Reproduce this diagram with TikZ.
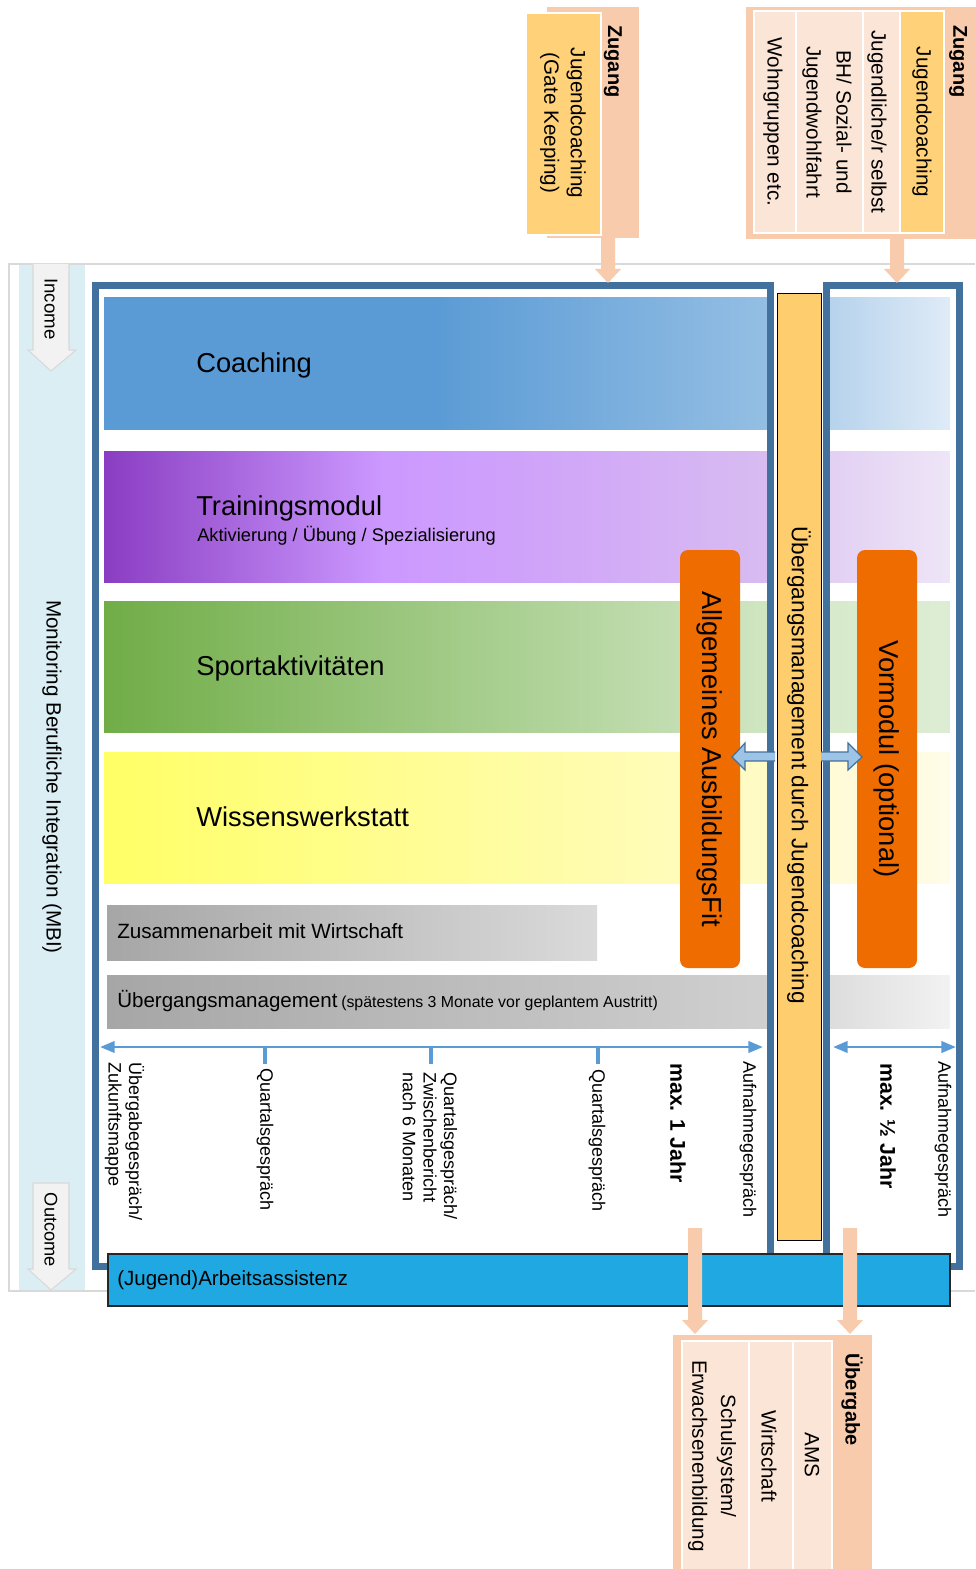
\documentclass[tikz,border=0pt]{standalone}
\usepackage{fontspec}
\setmainfont{Liberation Sans}
\usetikzlibrary{arrows.meta,calc}
\newcommand{\fsz}[2]{\fontsize{#1pt}{#2pt}\selectfont}
\definecolor{cFrame}{HTML}{41719C}
\definecolor{cMBI}{HTML}{DAEEF3}
\definecolor{cGrayLine}{HTML}{D9D9D9}
\definecolor{cArrowG}{HTML}{F2F2F2}
\definecolor{cCoachA}{HTML}{5B9BD5}
\definecolor{cCoachB}{HTML}{95BFE4}
\definecolor{cCoachC}{HTML}{B5D2EC}
\definecolor{cCoachD}{HTML}{DFEBF7}
\definecolor{cTrA}{HTML}{8A3DC2}
\definecolor{cTrB}{HTML}{CC99FF}
\definecolor{cTrB2}{HTML}{CFA2FA}
\definecolor{cTrC}{HTML}{D8BCF1}
\definecolor{cTrD}{HTML}{E2CFF3}
\definecolor{cTrE}{HTML}{EEE5F7}
\definecolor{cSpA}{HTML}{70AD47}
\definecolor{cSpB}{HTML}{D0E6C3}
\definecolor{cSpC}{HTML}{D7EACB}
\definecolor{cSpD}{HTML}{DDEDD4}
\definecolor{cWiA}{HTML}{FFFF66}
\definecolor{cWiB}{HTML}{FFFBC8}
\definecolor{cWiC}{HTML}{FFFBD6}
\definecolor{cWiD}{HTML}{FFFCE8}
\definecolor{cGrA}{HTML}{A6A6A6}
\definecolor{cGrB}{HTML}{DADADA}
\definecolor{cGrC}{HTML}{D0D0D0}
\definecolor{cGrD}{HTML}{DCDCDC}
\definecolor{cGrE}{HTML}{F2F2F2}
\definecolor{cYellow}{HTML}{FDCD6E}
\definecolor{cOrange}{HTML}{EF6C00}
\definecolor{cArrowB}{HTML}{9DC3E6}
\definecolor{cTime}{HTML}{5B9BD5}
\definecolor{cAA}{HTML}{1FA8E2}
\definecolor{cPeach}{HTML}{F8CBAD}
\definecolor{cPeachL}{HTML}{FBE5D6}
\definecolor{cYellowT}{HTML}{FFD27A}
\pgfdeclarehorizontalshading{shCoachL}{100bp}{color(0bp)=(cCoachA); color(25bp)=(cCoachA); color(50bp)=(cCoachA); color(75bp)=(cCoachB); color(100bp)=(cCoachB)}
\pgfdeclarehorizontalshading{shCoachR}{100bp}{color(0bp)=(cCoachC); color(25bp)=(cCoachC); color(75bp)=(cCoachD); color(100bp)=(cCoachD)}
\pgfdeclarehorizontalshading{shTrL}{100bp}{color(0bp)=(cTrA); color(25bp)=(cTrA); color(46bp)=(cTrB); color(56bp)=(cTrB2); color(75bp)=(cTrC); color(100bp)=(cTrC)}
\pgfdeclarehorizontalshading{shTrR}{100bp}{color(0bp)=(cTrD); color(25bp)=(cTrD); color(75bp)=(cTrE); color(100bp)=(cTrE)}
\pgfdeclarehorizontalshading{shSpL}{100bp}{color(0bp)=(cSpA); color(25bp)=(cSpA); color(75bp)=(cSpB); color(100bp)=(cSpB)}
\pgfdeclarehorizontalshading{shSpR}{100bp}{color(0bp)=(cSpC); color(25bp)=(cSpC); color(75bp)=(cSpD); color(100bp)=(cSpD)}
\pgfdeclarehorizontalshading{shWiL}{100bp}{color(0bp)=(cWiA); color(25bp)=(cWiA); color(75bp)=(cWiB); color(100bp)=(cWiB)}
\pgfdeclarehorizontalshading{shWiR}{100bp}{color(0bp)=(cWiC); color(25bp)=(cWiC); color(75bp)=(cWiD); color(100bp)=(cWiD)}
\pgfdeclarehorizontalshading{shGrZ}{100bp}{color(0bp)=(cGrA); color(25bp)=(cGrA); color(75bp)=(cGrB); color(100bp)=(cGrB)}
\pgfdeclarehorizontalshading{shGrL}{100bp}{color(0bp)=(cGrA); color(25bp)=(cGrA); color(75bp)=(cGrC); color(100bp)=(cGrC)}
\pgfdeclarehorizontalshading{shGrR}{100bp}{color(0bp)=(cGrD); color(25bp)=(cGrD); color(75bp)=(cGrE); color(100bp)=(cGrE)}
\newcommand{\peacharrow}[2]{%
  \fill[cPeach] let \p1=(#1), \p2=(#2) in
    (\x1-5.25pt,\y1) -- (\x1-5.25pt,\y2+10.5pt) -- (\x1-9.75pt,\y2+10.5pt) -- (\x2,\y2)
    -- (\x1+9.75pt,\y2+10.5pt) -- (\x1+5.25pt,\y2+10.5pt) -- (\x1+5.25pt,\y1) -- cycle;}
\tikzset{
  rot/.style={rotate=-90},
  lbl/.style={rotate=-90, anchor=west, align=left, font=\fsz{13.5}{15.5}},
  maxlbl/.style={rotate=-90, anchor=west, font=\fsz{16}{19}\bfseries},
  bandtxt/.style={anchor=base west, font=\fsz{20.5}{24}},
  boxtxt/.style={rotate=-90, align=center, font=\fsz{15.5}{21}},
  hdrtxt/.style={rotate=-90, anchor=west, font=\fsz{15}{18}\bfseries},
  cell/.style={draw=white, line width=1.2pt},
  tick/.style={cTime, line width=3pt},
  timeline/.style={cTime, line width=2.2pt, {Triangle[length=11pt,width=8.5pt]}-{Triangle[length=11pt,width=8.5pt]}},
  frame/.style={cFrame, line width=5.3pt},
  blockarrow/.style={fill=cArrowB, draw=cFrame, line width=0.9pt, line join=miter},
  grayarrow/.style={fill=cArrowG, draw=cGrayLine, line width=0.8pt}
}
\begin{document}
\begin{tikzpicture}[x=0.75pt,y=-0.75pt, every node/.style={inner sep=0pt, text=black}]
\useasboundingbox (0,0) rectangle (975,1569);
% ---- monitoring strip
\fill[cMBI] (19,264) rectangle (85,1291);
\draw[cGrayLine, line width=2.2pt] (975,264) -- (9,264) -- (9,1291) -- (975,1291);
\draw[grayarrow] (33,264) -- (33,350) -- (28,350) -- (51,371) -- (76,350) -- (69,350) -- (69,264);
\node[rot, font=\fsz{14}{16}] (income) at (51,309) {Income};
\draw[grayarrow] (33,1183) -- (33,1269) -- (28,1269) -- (51,1290) -- (76,1269) -- (69,1269) -- (69,1183) -- cycle;
\node[rot, font=\fsz{13.7}{16}] (outcome) at (51,1230) {Outcome};
\node[rot, font=\fsz{15.5}{18}] (mbi) at (52,777) {Monitoring Berufliche Integration (MBI)};
% ---- bands
\shade[shading=shCoachL] (104,298) rectangle (771,429);
\shade[shading=shCoachR] (826,298) rectangle (950,429);
\shade[shading=shTrL] (104,451) rectangle (771,582);
\shade[shading=shTrR] (826,451) rectangle (950,582);
\shade[shading=shSpL] (104,601) rectangle (771,732);
\shade[shading=shSpR] (826,601) rectangle (950,732);
\shade[shading=shWiL] (104,752) rectangle (771,883);
\shade[shading=shWiR] (826,752) rectangle (950,883);
\shade[shading=shGrZ] (107,905) rectangle (597,960);
\shade[shading=shGrL] (107,975) rectangle (771,1028);
\shade[shading=shGrR] (826,975) rectangle (950,1028);
\node[bandtxt] (coaching) at (196,372) {Coaching};
\node[bandtxt] (training) at (196,515) {Trainingsmodul};
\node[anchor=base west, font=\fsz{13.7}{16}] (trainsub) at (197,541) {Aktivierung / Übung / Spezialisierung};
\node[bandtxt] (sport) at (196,675) {Sportaktivitäten};
\node[bandtxt] (wissen) at (196,826) {Wissenswerkstatt};
\node[anchor=base west, font=\fsz{15.5}{18}] (zusammen) at (117,938) {Zusammenarbeit mit Wirtschaft};
\node[anchor=base west] (uebergang) at (117,1007) {{\fsz{15.4}{18}Übergangsmanagement} {\fsz{11.9}{14}(spätestens 3 Monate vor geplantem Austritt)}};
% ---- frames
\draw[frame] (95.5,285.5) rectangle (770.5,1266.5);
\draw[frame] (826.5,285.5) rectangle (959.5,1266.5);
% ---- central bar
\draw[fill=cYellow, draw=black, line width=0.6pt] (777,293) rectangle (821,1240);
\node[rot, font=\fsz{17}{20}] (ugm) at (799,765) {Übergangsmanagement durch Jugendcoaching};
% ---- orange modules
\fill[cOrange, rounded corners=6pt] (680,550) rectangle (740,968);
\node[rot, font=\fsz{20.5}{24}] (afit) at (710,759) {Allgemeines AusbildungsFit};
\fill[cOrange, rounded corners=6pt] (857,550) rectangle (917,968);
\node[rot, font=\fsz{20.5}{24}] (vormodul) at (887,759) {Vormodul (optional)};
\draw[blockarrow] (775,752) -- (745,752) -- (745,743) -- (732,757) -- (745,770) -- (745,761) -- (775,761);
\draw[blockarrow] (821,752) -- (848,752) -- (848,743) -- (862,757) -- (848,770) -- (848,761) -- (821,761);
% ---- timelines
\coordinate (tlL) at (100,1047);
\coordinate (tlR) at (763,1047);
\draw[timeline] (tlL) -- (tlR);
\coordinate (tl2L) at (833,1047);
\coordinate (tl2R) at (956,1047);
\draw[timeline] (tl2L) -- (tl2R);
\draw[tick] (265,1047) -- (265,1064);
\draw[tick] (431,1047) -- (431,1064);
\draw[tick] (598,1047) -- (598,1064);
\node[lbl] (l1) at (124.5,1062) {Übergabegespräch/\\Zukunftsmappe};
\node[lbl] (l2) at (265,1068) {Quartalsgespräch};
\node[lbl] (l3) at (430,1072) {Quartalsgespräch/\\Zwischenbericht\\nach 6 Monaten};
\node[lbl] (l4) at (597,1069) {Quartalsgespräch};
\node[maxlbl] (max1) at (678,1063) {max. 1 Jahr};
\node[lbl] (l5) at (748,1061) {Aufnahmegespräch};
\node[maxlbl] (max2) at (888,1063) {max. ½ Jahr};
\node[lbl] (l6) at (943,1061) {Aufnahmegespräch};
% ---- Arbeitsassistenz
\draw[fill=cAA, draw=black!85, line width=1pt] (108,1254) rectangle (950,1306);
\node[anchor=base west, font=\fsz{15.4}{18}] (aa) at (117,1285) {(Jugend)Arbeitsassistenz};
% ---- peach arrows
\coordinate (zA) at (608,238);
\coordinate (zAtip) at (608,283);
\coordinate (zB) at (897,239);
\coordinate (zBtip) at (897,283);
\coordinate (uA) at (695,1228);
\coordinate (uAtip) at (695,1334);
\coordinate (uB) at (850,1228);
\coordinate (uBtip) at (850,1334);
\peacharrow{zA}{zAtip}
\peacharrow{zB}{zBtip}
\peacharrow{uA}{uAtip}
\peacharrow{uB}{uBtip}
% ---- Zugang (left)
\fill[cPeach] (547,7) rectangle (639,238);
\draw[cell, fill=cYellowT] (526,13) rectangle (601,235);
\node[hdrtxt] (zugang1) at (613,25) {Zugang};
\node[boxtxt, font=\fsz{15.5}{20}] (gate) at (563,123) {Jugendcoaching\\(Gate Keeping)};
% ---- Zugang (right)
\fill[cPeach] (746,7) rectangle (985,239);
\draw[cell, fill=cPeachL] (754,11) rectangle (796,233);
\draw[cell, fill=cPeachL] (796,11) rectangle (863,233);
\draw[cell, fill=cPeachL] (863,11) rectangle (900,233);
\draw[cell, fill=cYellowT] (900,11) rectangle (944,233);
\node[hdrtxt] (zugang2) at (958,25) {Zugang};
\node[boxtxt] (jc) at (922,122) {Jugendcoaching};
\node[boxtxt] (selbst) at (877,122) {Jugendliche/r selbst};
\node[boxtxt, font=\fsz{15.5}{22.5}] (bh) at (827,122) {BH/ Sozial- und\\Jugendwohlfahrt};
\node[boxtxt] (wg) at (773,122) {Wohngruppen etc.};
% ---- Uebergabe (bottom)
\fill[cPeach] (673,1335) rectangle (872,1580);
\draw[cell, fill=cPeachL] (682,1341) rectangle (749,1580);
\draw[cell, fill=cPeachL] (749,1341) rectangle (793,1580);
\draw[cell, fill=cPeachL] (793,1341) rectangle (832,1580);
\node[hdrtxt] (uebergabe) at (852,1353) {Übergabe};
\node[boxtxt] (ams) at (812,1455) {AMS};
\node[boxtxt] (wirt) at (769,1456) {Wirtschaft};
\node[boxtxt, font=\fsz{15.5}{21.5}] (schul) at (712,1456) {Schulsystem/\\Erwachsenenbildung};
\end{tikzpicture}
\end{document}
